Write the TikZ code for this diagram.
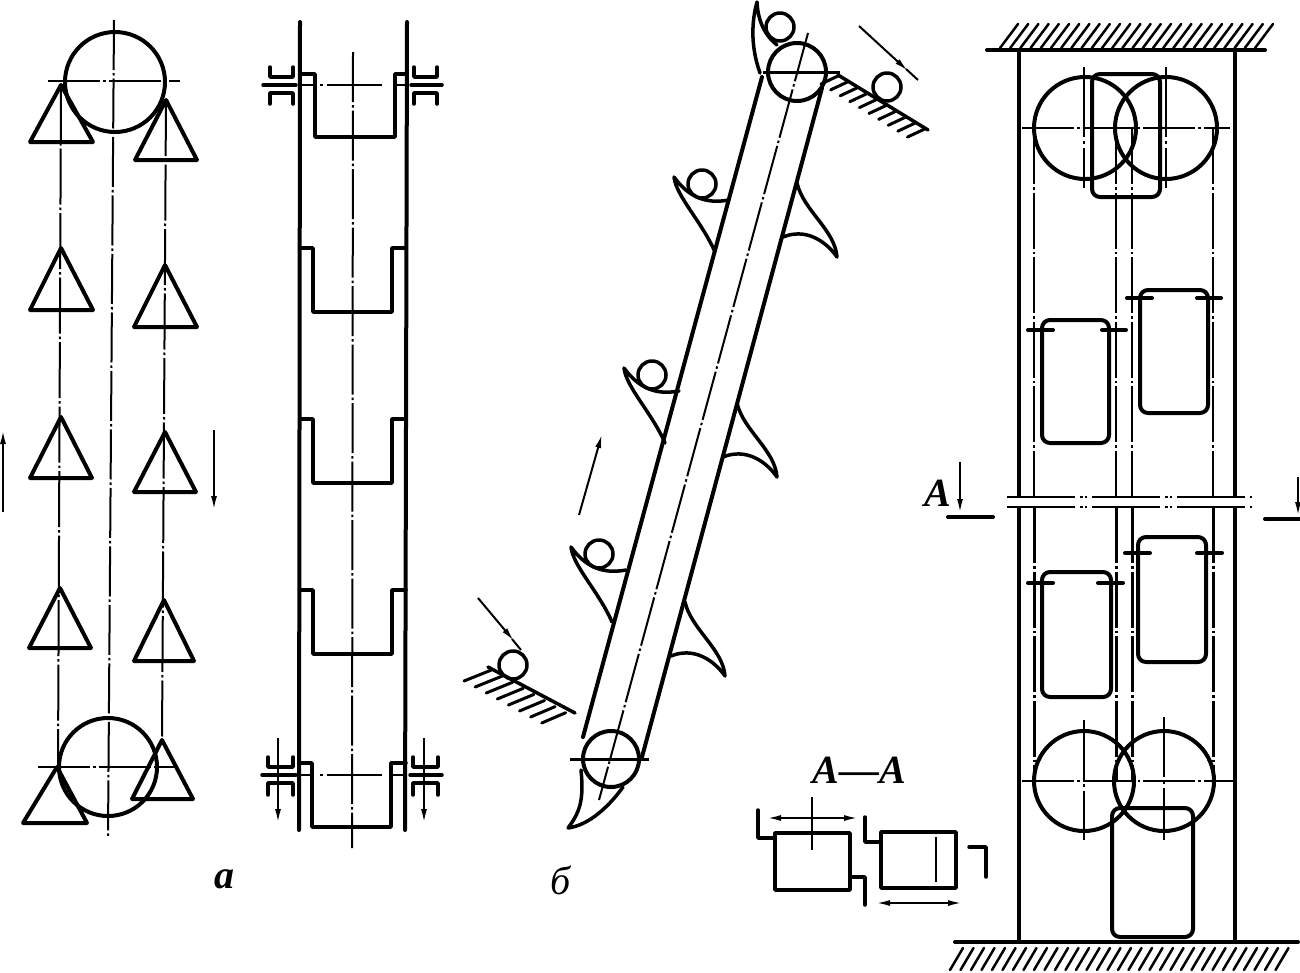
\documentclass[tikz,border=0pt]{standalone}
\usepackage{fontspec}
\setmainfont{Liberation Serif}
\usetikzlibrary{arrows.meta}
\tikzset{
  heavy/.style={line width=4pt,line join=round,line cap=round},
  med/.style={line width=3.5pt,line join=round,line cap=round},
  thin line/.style={line width=2pt,line cap=butt},
  axis/.style={line width=2pt,dash pattern=on 56pt off 3pt on 2.5pt off 3pt},
  shortaxis/.style={line width=2pt,dash pattern=on 50pt off 3pt on 2.5pt off 3pt},
  breakline/.style={line width=2.5pt,dash pattern=on 68pt off 5pt on 2.5pt off 2pt on 2.5pt off 5pt},
  hatchline/.style={line width=3pt,line cap=round},
  tip/.style={-{Latex[length=14pt,width=6pt]},line width=2pt},
  label/.style={inner sep=0pt,font=\fontsize{40}{40}\selectfont\itshape}
}
\begin{document}
\begin{tikzpicture}[x=1pt,y=-1pt]
\useasboundingbox (0,0) rectangle (1300,972);
% --- a: left scheme
\draw[heavy] (115,82) circle (50pt);
\draw[heavy] (108,767) circle (49pt);
\draw[shortaxis] (114,20) -- (108,837);
\draw[axis,dash pattern=on 52pt off 3pt on 2.5pt off 3pt] (48,81) -- (180,81);
\draw[axis,dash pattern=on 52pt off 3pt on 2.5pt off 3pt] (38,767) -- (175,767);
\draw[axis] (61,84) -- (58,767);
\draw[axis] (166,100) -- (162,740);
\foreach \ax/\ay/\by/\bl/\br in {61/85/142/30/93, 61/248/310/30/93, 61/417/478/30/92, 60/588/648/29/91, 57/767/823/23/87}
  \draw[heavy] (\ax,\ay) -- (\bl,\by) -- (\br,\by) -- cycle;
\foreach \ax/\ay/\by/\bl/\br in {166/100/160/135/197, 165/265/327/134/197, 165/432/492/134/196, 164/600/661/134/194, 162/740/799/132/193}
  \draw[heavy] (\ax,\ay) -- (\bl,\by) -- (\br,\by) -- cycle;
\draw[tip] (3,512) -- (3,430);
\draw[tip] (214,430) -- (214,510);
% --- a: right scheme
\draw[heavy] (300,22) -- (299,830);
\draw[heavy] (407,22) -- (405,830);
\draw[shortaxis] (353,52) -- (352,848);
\foreach \t/\b/\l/\r in {74/137/315/395, 248/312/313/392, 419/483/313/392, 590/654/313/392, 763/827/312/391}
  \draw[med] (300,\t) -- (\l,\t) -- (\l,\b) -- (\r,\b) -- (\r,\t) -- (406,\t);
\draw[thin line] (300,85) -- (316,85);
\draw[thin line] (394,85) -- (407,85);
\draw[thin line] (300,775) -- (313,775);
\draw[thin line] (391,775) -- (405,775);
\draw[axis,dash pattern=on 3pt off 4pt on 55pt off 4pt on 3pt] (320,85) -- (385,85);
\draw[axis,dash pattern=on 3pt off 4pt on 55pt off 4pt on 3pt] (320,775) -- (385,775);
% bearings
\foreach \yy/\up/\dn/\a/\b in {85/67/104/270/293, 85/67/104/414/437, 775/757/795/268/293, 775/757/795/413/438}{
  \draw[med] (\a,\up) -- (\a,\yy-8) -- (\b,\yy-8) -- (\b,\up);
  \draw[med] (\a,\dn) -- (\a,\yy+8) -- (\b,\yy+8) -- (\b,\dn);
}
\draw[med] (263,85) -- (296,85);
\draw[med] (411,85) -- (442,85);
\draw[med] (262,775) -- (296,775);
\draw[med] (410,775) -- (442,775);
\draw[tip] (278,738) -- (278,823);
\draw[tip] (424,738) -- (424,823);
\node[label,font=\fontsize{40}{40}\selectfont\itshape\bfseries] (la) at (224,879) {a};
% --- b: inclined conveyor
\draw[heavy] (797,72) circle (29pt);
\draw[heavy] (611,759) circle (28pt);
\draw[heavy] (762,77) -- (583,737);
\draw[heavy] (822,88) -- (642,757);
\draw[shortaxis] (808,33) -- (599,800);
\draw[thin line,line width=3pt] (763,72) -- (840,72);
\draw[thin line,line width=3pt] (570,759) -- (649,759);
% scoops on the left of the belt
\foreach \dx/\dy in {0/0,-50/191,-103/370}{
  \begin{scope}[shift={(\dx,\dy)}]
  \draw[med] (729,200) .. controls (712,203) and (692,202) .. (674,177)
    .. controls (676,196) and (702,222) .. (715,252);
  \draw[med] (702,184) circle (14pt);
  \end{scope}
}
% scoops on the right of the belt
\foreach \dx/\dy in {0/0,-60/220,-112/419}{
  \begin{scope}[shift={(\dx,\dy)}]
  \draw[med] (797,183) .. controls (803,210) and (835,230) .. (837,257)
    .. controls (825,240) and (805,228) .. (783,237);
  \end{scope}
}
% top scoop
\draw[med] (760,73) .. controls (750,45) and (752,20) .. (757,2)
  .. controls (758,25) and (768,38) .. (777,45);
\draw[med] (780,27) circle (14pt);
% bottom scoop
\draw[med] (581,770) .. controls (584,800) and (580,812) .. (568,828)
  .. controls (590,825) and (610,805) .. (623,787);
% upper chute
\draw[med] (838,75) -- (928,130);
\foreach \i in {0,...,9}
  \draw[hatchline] ({838+9.6*\i},{76+5.9*\i}) -- ({821+9.6*\i},{84+5.9*\i});
\draw[med] (887,87) circle (14pt);
\draw[tip] (859,26) -- (908,71);
\draw[thin line] (906,69) -- (918,80);
% lower chute
\draw[med] (488,667) -- (575,713);
\foreach \i in {0,...,7}
  \draw[hatchline] ({491.5+10.6*\i},{670+6.1*\i}) -- ({464+11.1*\i},{681+6*\i});
\draw[med] (513,665) circle (14pt);
\draw[tip] (478,598) -- (514,641);
\draw[thin line] (512,639) -- (521,650);
\draw[tip] (579,515) -- (602,434);
\node[label] (lb) at (561,880) {б};
% --- section A-A
\node[label,font=\fontsize{40}{40}\selectfont\itshape\bfseries] (laa) at (859,770) {A—A};
\draw[med] (775,833) rectangle (850,890);
\draw[med] (881,832) rectangle (956,888);
\draw[med] (758,810) -- (758,838) -- (775,838);
\draw[med] (850,877) -- (865,877) -- (865,905);
\draw[med] (865,817) -- (865,842) -- (881,842);
\draw[med] (969,847) -- (986,847) -- (986,877);
\draw[thin line] (812,797) -- (812,850);
\draw[thin line] (936,837) -- (936,882);
\draw[{Latex[length=14pt,width=6pt]}-{Latex[length=14pt,width=6pt]},line width=2pt] (767,818) -- (858,818);
\draw[{Latex[length=14pt,width=6pt]}-{Latex[length=14pt,width=6pt]},line width=2pt] (876,903) -- (962,903);
% --- right elevator
\draw[heavy] (987,50) -- (1265,50);
\foreach \i in {0,...,25}
  \draw[hatchline,line width=2.5pt] ({1000+10.2*\i},48) -- ({1018+10.2*\i},24);
\draw[heavy] (955,942) -- (1298,942);
\foreach \i in {0,...,31}
  \draw[hatchline,line width=2.5pt] ({963+10.5*\i},948) -- ({950+10.5*\i},970);
\draw[heavy,line cap=butt] (1019,50) -- (1019,497);
\draw[heavy,line cap=butt] (1019,507) -- (1019,942);
\draw[heavy,line cap=butt] (1235,50) -- (1235,497);
\draw[heavy,line cap=butt] (1235,507) -- (1235,942);
\foreach \xx in {1034,1116,1132,1213}{
  \draw[axis,line width=2.5pt] (\xx,128) -- (\xx,497);
  \draw[axis,line width=2.5pt] (\xx+0.5,507) -- (\xx+0.5,781);
}
\draw[breakline] (1007,497) -- (1252,497);
\draw[breakline] (1007,507) -- (1252,507);
\draw[heavy] (1085,128) circle (51pt);
\draw[heavy] (1166,128) circle (51pt);
\draw[heavy] (1084,781) circle (50pt);
\draw[heavy] (1164,781) circle (50pt);
\draw[axis,line width=2.5pt,dash pattern=on 52pt off 3pt on 2.5pt off 3pt] (1022,128) -- (1230,128);
\draw[axis,line width=2.5pt,dash pattern=on 52pt off 3pt on 2.5pt off 3pt] (1022,781) -- (1233,781);
\draw[axis,dash pattern=on 70pt off 4pt on 2.5pt off 4pt] (1084,67) -- (1084,188);
\draw[axis,dash pattern=on 70pt off 4pt on 2.5pt off 4pt] (1166,67) -- (1166,188);
\draw[axis,dash pattern=on 60pt off 4pt on 2.5pt off 4pt] (1084,720) -- (1084,840);
\draw[axis,dash pattern=on 60pt off 4pt on 2.5pt off 4pt] (1164,717) -- (1164,840);
\draw[heavy,rounded corners=8pt] (1092,74) rectangle (1160,197);
\draw[heavy,rounded corners=8pt] (1112,808) rectangle (1193,937);
\foreach \l/\r/\t/\b/\ly/\a/\bb/\c/\d in {
  1042/1109/320/443/330/1028/1053/1102/1126,
  1140/1208/290/413/298/1127/1152/1197/1221,
  1042/1111/572/697/583/1028/1053/1098/1123,
  1138/1206/537/662/553/1125/1150/1197/1222}{
  \draw[heavy,rounded corners=8pt] (\l,\t) rectangle (\r,\b);
  \draw[heavy] (\a,\ly) -- (\bb,\ly);
  \draw[heavy] (\c,\ly) -- (\d,\ly);
}
% section marks
\node[label,font=\fontsize{40}{40}\selectfont\itshape\bfseries] (lA) at (938,493) {A};
\draw[tip] (960,462) -- (960,513);
\draw[heavy] (948,517) -- (993,517);
\draw[heavy] (1265,519) -- (1300,519);
\draw[tip] (1298,477) -- (1298,516);
\end{tikzpicture}
\end{document}
